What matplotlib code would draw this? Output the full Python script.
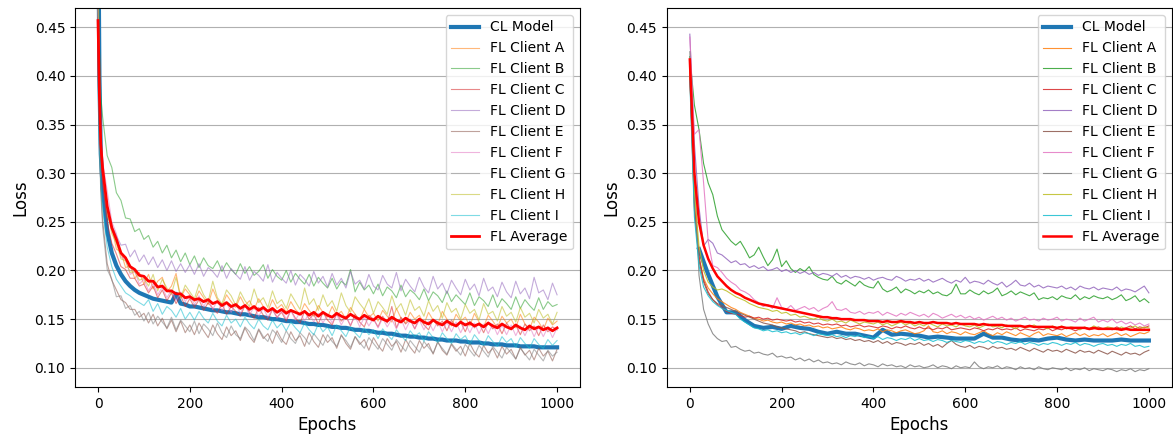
import numpy as np
import matplotlib.pyplot as plt

# epochs of the stored points
left_epochs = [0, 3, 6] + list(range(10, 1001, 10))
right_epochs = list(range(0, 1001, 10))
right_cl_epochs = list(range(20, 1001, 20))

client_names = ["FL Client A", "FL Client B", "FL Client C", "FL Client D", "FL Client E",
                "FL Client F", "FL Client G", "FL Client H", "FL Client I"]
client_colors = ["tab:orange", "tab:green", "tab:red", "tab:purple", "tab:brown",
                 "tab:pink", "tab:gray", "tab:olive", "tab:cyan"]

# ---- left panel (loss x1000) ----
left_cl = [600, 400, 320,
           285, 240, 218, 205, 196, 189, 184, 180, 177, 175,
           173, 171, 170, 169, 168, 167, 176, 166, 165, 163,
           163, 162, 161, 160, 159, 159, 158, 157, 157, 156,
           155, 155, 154, 153, 152, 152, 151, 150, 150, 149,
           148, 148, 147, 147, 146, 145, 145, 144, 144, 143,
           142, 142, 141, 141, 140, 139, 139, 138, 138, 137,
           136, 136, 135, 135, 134, 133, 133, 132, 132, 131,
           131, 130, 130, 129, 129, 128, 128, 128, 127, 127,
           126, 126, 126, 125, 125, 124, 124, 124, 123, 123,
           123, 122, 122, 122, 122, 121, 121, 121, 121, 121]
left_avg = [457, 380, 330,
            305, 266, 244, 232, 218, 213, 204, 201, 195, 194,
            189, 189, 183, 184, 179, 179, 176, 176, 172, 173,
            170, 171, 168, 170, 166, 168, 164, 167, 163, 165,
            161, 164, 160, 163, 159, 162, 158, 161, 157, 160,
            156, 159, 157, 155, 158, 154, 157, 153, 157, 154,
            152, 156, 153, 151, 155, 152, 150, 154, 151, 149,
            153, 150, 148, 152, 149, 147, 151, 148, 146, 150,
            147, 145, 149, 146, 144, 148, 145, 143, 147, 144,
            146, 143, 145, 142, 146, 143, 141, 145, 142, 140,
            144, 141, 139, 143, 140, 142, 139, 141, 138, 141]
left_a = [470, 390, 330,
          300, 256, 245, 222, 219, 203, 205, 192, 198, 186,
          196, 181, 189, 193, 178, 184, 197, 172, 181, 175,
          168, 179, 172, 165, 181, 170, 163, 175, 168, 162,
          173, 164, 169, 160, 171, 163, 158, 170, 161, 165,
          157, 168, 160, 155, 166, 159, 153, 164, 157, 152,
          163, 154, 158, 150, 162, 155, 149, 160, 152, 156,
          148, 159, 153, 147, 161, 151, 146, 157, 150, 154,
          145, 157, 149, 144, 158, 150, 143, 155, 148, 152,
          143, 156, 147, 142, 154, 148, 141, 153, 146, 150,
          141, 155, 145, 140, 152, 147, 139, 151, 144, 148]
left_b = [520, 430, 380,
          358, 318, 306, 280, 272, 254, 253, 240, 243, 232,
          236, 224, 230, 218, 226, 213, 221, 209, 218, 206,
          215, 203, 213, 205, 202, 210, 199, 208, 201, 196,
          207, 197, 204, 195, 199, 206, 192, 201, 194, 190,
          200, 188, 197, 191, 186, 196, 184, 193, 187, 182,
          192, 181, 189, 185, 201, 178, 188, 180, 185, 176,
          186, 174, 183, 179, 172, 185, 173, 180, 176, 170,
          181, 169, 178, 174, 167, 179, 168, 175, 170, 165,
          177, 164, 173, 169, 163, 175, 162, 171, 166, 160,
          173, 161, 170, 164, 159, 172, 160, 168, 163, 165]
left_c = [460, 380, 320,
          290, 250, 228, 217, 204, 201, 192, 192, 184, 186,
          177, 184, 172, 180, 169, 177, 166, 174, 163, 171,
          162, 170, 159, 167, 161, 156, 166, 155, 163, 158,
          153, 164, 157, 151, 162, 154, 149, 160, 152, 157,
          148, 159, 151, 146, 158, 150, 155, 145, 157, 149,
          144, 156, 148, 153, 143, 155, 147, 142, 154, 150,
          142, 153, 146, 163, 141, 152, 145, 150, 140, 151,
          144, 139, 150, 143, 148, 138, 149, 142, 147, 137,
          148, 141, 146, 136, 147, 140, 145, 135, 146, 139,
          144, 134, 145, 138, 143, 133, 144, 137, 142, 139]
left_d = [480, 400, 340,
          300, 262, 246, 236, 226, 227, 214, 221, 209, 216,
          206, 214, 203, 211, 200, 210, 199, 207, 198, 206,
          196, 207, 194, 203, 199, 193, 205, 192, 202, 196,
          191, 204, 190, 199, 195, 189, 206, 188, 198, 192,
          187, 200, 185, 196, 191, 184, 199, 187, 194, 183,
          197, 185, 192, 182, 199, 186, 190, 181, 196, 184,
          180, 195, 186, 182, 198, 179, 191, 184, 178, 193,
          183, 177, 194, 181, 187, 176, 190, 182, 175, 191,
          180, 186, 174, 192, 179, 183, 173, 188, 178, 172,
          189, 176, 182, 171, 193, 177, 180, 170, 187, 175]
left_e = [430, 340, 285,
          252, 207, 190, 180, 170, 167, 160, 160, 152, 156,
          146, 155, 143, 151, 140, 149, 137, 148, 136, 144,
          134, 146, 138, 131, 144, 135, 129, 142, 133, 138,
          128, 141, 132, 126, 139, 130, 135, 125, 138, 129,
          124, 137, 128, 133, 122, 136, 127, 121, 134, 126,
          131, 120, 134, 125, 119, 132, 124, 129, 118, 131,
          123, 117, 130, 122, 127, 116, 129, 121, 115, 128,
          120, 125, 114, 127, 118, 113, 124, 117, 122, 112,
          125, 116, 111, 123, 115, 120, 110, 122, 114, 119,
          109, 121, 113, 118, 108, 120, 112, 117, 107, 119]
left_f = [470, 400, 345,
          312, 282, 250, 238, 214, 211, 196, 199, 186, 191,
          179, 187, 175, 183, 172, 180, 169, 178, 168, 175,
          165, 174, 163, 171, 160, 169, 159, 167, 157, 166,
          156, 165, 154, 163, 153, 161, 152, 160, 151, 159,
          150, 159, 149, 157, 148, 156, 147, 156, 146, 155,
          146, 155, 144, 153, 144, 153, 142, 152, 143, 151,
          141, 151, 142, 150, 140, 150, 139, 149, 140, 149,
          139, 148, 138, 148, 137, 147, 137, 147, 136, 146,
          136, 146, 135, 145, 135, 145, 134, 144, 134, 144,
          133, 143, 133, 143, 132, 142, 132, 142, 131, 141]
left_g = [420, 330, 280,
          245, 201, 191, 173, 174, 161, 164, 154, 158, 148,
          157, 145, 153, 147, 141, 152, 139, 149, 143, 137,
          148, 135, 145, 140, 133, 146, 136, 131, 143, 134,
          130, 142, 137, 128, 140, 132, 127, 139, 134, 126,
          138, 130, 125, 136, 131, 124, 135, 129, 123, 134,
          127, 122, 133, 128, 121, 132, 126, 120, 131, 125,
          119, 130, 124, 118, 129, 123, 117, 128, 122, 116,
          127, 121, 115, 126, 120, 114, 125, 119, 113, 124,
          118, 112, 123, 117, 111, 122, 116, 110, 121, 115,
          109, 120, 114, 108, 119, 113, 107, 118, 112, 116]
left_h = [480, 395, 335,
          302, 262, 238, 228, 212, 210, 198, 199, 190, 192,
          184, 196, 179, 191, 182, 176, 193, 172, 185, 178,
          171, 186, 175, 168, 189, 172, 166, 180, 174, 164,
          178, 169, 163, 181, 167, 172, 162, 179, 166, 170,
          161, 176, 168, 160, 182, 165, 171, 159, 175, 163,
          169, 158, 177, 164, 157, 173, 166, 160, 171, 156,
          168, 162, 155, 174, 160, 166, 154, 170, 159, 163,
          153, 169, 158, 164, 151, 167, 157, 161, 150, 165,
          156, 160, 149, 166, 155, 158, 148, 163, 153, 157,
          147, 162, 152, 156, 146, 160, 151, 155, 145, 157]
left_i = [400, 330, 290,
          265, 224, 204, 191, 184, 177, 174, 170, 167, 164,
          170, 158, 166, 155, 163, 159, 152, 161, 150, 157,
          149, 158, 151, 146, 156, 148, 143, 154, 146, 150,
          142, 152, 145, 140, 150, 143, 139, 149, 141, 146,
          138, 147, 141, 136, 146, 139, 134, 145, 137, 142,
          133, 144, 138, 132, 142, 136, 131, 141, 134, 139,
          130, 140, 134, 129, 139, 133, 128, 138, 132, 136,
          127, 137, 131, 126, 136, 130, 125, 135, 129, 133,
          124, 134, 128, 123, 133, 127, 122, 132, 126, 130,
          121, 131, 125, 120, 130, 124, 120, 129, 123, 128]

# ---- right panel (loss x1000) ----
right_cl = [222, 196, 173, 157, 157, 149, 143, 141, 142, 140,
            143, 141, 140, 137, 135, 137, 135, 135, 133, 131,
            139, 134, 135, 134, 133, 131, 132, 131, 130, 130,
            130, 135, 131, 131, 129, 128, 129, 128, 130, 131,
            129, 128, 129, 128, 128, 128, 129, 128, 128, 128]
right_avg = [417, 300, 250, 226, 212, 202, 194, 189, 184, 180,
             177, 175, 172, 170, 168, 166, 165, 164, 163, 162,
             161, 160, 159, 158, 157, 156, 155, 154, 153, 152,
             152, 151, 151, 150, 150, 150, 149, 149, 149, 148,
             148, 148, 147, 148, 147, 147, 148, 147, 147, 146,
             147, 146, 146, 147, 146, 146, 146, 145, 146, 145,
             145, 145, 145, 144, 145, 144, 144, 144, 144, 143,
             143, 143, 143, 142, 143, 142, 142, 142, 142, 142,
             141, 142, 141, 141, 141, 141, 141, 140, 141, 140,
             140, 140, 140, 140, 139, 140, 139, 139, 139, 139,
             139]
right_a = [400, 265, 212, 192, 182, 176, 171, 168, 165, 162,
           160, 157, 155, 153, 151, 150, 148, 149, 147, 146,
           147, 145, 146, 144, 145, 143, 144, 142, 143, 141,
           142, 140, 141, 142, 140, 139, 141, 140, 138, 139,
           138, 140, 137, 139, 138, 136, 138, 139, 137, 135,
           136, 138, 143, 137, 136, 138, 135, 137, 136, 134,
           137, 135, 134, 136, 138, 135, 133, 136, 134, 137,
           135, 133, 136, 134, 132, 135, 137, 133, 135, 134,
           133, 135, 132, 134, 136, 133, 135, 132, 134, 133,
           135, 132, 134, 136, 133, 135, 132, 134, 136, 135,
           137]
right_b = [420, 370, 345, 310, 290, 278, 256, 242, 236, 230,
           226, 230, 222, 213, 216, 224, 214, 205, 211, 222,
           204, 210, 202, 198, 202, 199, 204, 196, 193, 191,
           190, 194, 188, 186, 190, 187, 184, 189, 185, 183,
           182, 189, 181, 178, 180, 183, 177, 181, 179, 176,
           179, 177, 180, 176, 178, 175, 174, 177, 186, 176,
           176, 180, 177, 175, 179, 176, 178, 182, 174, 176,
           179, 175, 178, 176, 174, 177, 170, 172, 171, 173,
           170, 174, 172, 171, 175, 170, 173, 171, 174, 172,
           171, 173, 170, 172, 175, 169, 171, 174, 168, 171,
           167]
right_c = [405, 270, 215, 190, 178, 170, 165, 162, 158, 156,
           155, 154, 152, 153, 151, 152, 150, 151, 149, 150,
           149, 148, 149, 147, 148, 146, 147, 145, 146, 144,
           145, 144, 145, 143, 144, 142, 143, 144, 142, 143,
           142, 141, 143, 142, 140, 142, 141, 143, 141, 140,
           142, 140, 141, 139, 141, 140, 142, 139, 140, 141,
           140, 139, 141, 140, 138, 140, 139, 141, 139, 140,
           139, 141, 138, 140, 139, 138, 140, 139, 141, 138,
           140, 139, 141, 140, 138, 140, 141, 139, 140, 142,
           140, 141, 139, 142, 140, 141, 143, 140, 142, 141,
           143]
right_d = [443, 330, 265, 225, 232, 228, 218, 216, 212, 208,
           210, 206, 207, 203, 205, 202, 204, 200, 201, 203,
           199, 201, 198, 200, 197, 199, 196, 198, 195, 197,
           196, 194, 197, 193, 195, 192, 194, 193, 191, 193,
           190, 192, 193, 191, 190, 194, 192, 189, 191, 190,
           192, 189, 191, 188, 190, 192, 189, 187, 190, 188,
           193, 187, 189, 188, 186, 190, 187, 185, 188, 183,
           186, 190, 185, 184, 187, 183, 185, 182, 184, 183,
           182, 184, 181, 183, 180, 184, 182, 181, 183, 180,
           182, 181, 180, 183, 179, 181, 180, 178, 181, 184,
           177]
right_e = [400, 262, 210, 188, 176, 170, 166, 164, 162, 160,
           158, 156, 154, 152, 150, 148, 146, 145, 144, 142,
           141, 140, 139, 138, 136, 137, 135, 134, 133, 132,
           131, 132, 130, 131, 129, 130, 128, 129, 127, 128,
           126, 128, 125, 127, 124, 126, 125, 123, 125, 124,
           126, 123, 125, 122, 124, 121, 125, 128, 124, 122,
           121, 123, 120, 122, 121, 119, 122, 120, 121, 119,
           120, 118, 121, 119, 117, 120, 118, 116, 119, 117,
           118, 116, 119, 117, 115, 118, 116, 117, 115, 118,
           116, 114, 117, 115, 113, 116, 114, 115, 113, 116,
           118]
right_f = [440, 340, 345, 290, 230, 205, 203, 198, 192, 188,
           185, 180, 178, 175, 170, 167, 163, 165, 161, 172,
           162, 160, 164, 159, 161, 163, 160, 162, 158, 161,
           163, 168, 160, 159, 161, 157, 156, 158, 155, 157,
           156, 158, 154, 157, 155, 153, 156, 154, 157, 155,
           153, 155, 152, 156, 154, 151, 153, 155, 152, 154,
           151, 153, 150, 152, 149, 151, 153, 150, 152, 149,
           151, 148, 150, 152, 149, 150, 148, 151, 149, 150,
           152, 148, 150, 149, 147, 151, 148, 150, 152, 147,
           149, 147, 150, 146, 148, 145, 147, 144, 146, 143,
           145]
right_g = [425, 300, 195, 160, 145, 135, 130, 127, 128, 121,
           122, 119, 117, 118, 115, 116, 114, 113, 115, 111,
           112, 110, 111, 108, 110, 107, 109, 106, 108, 105,
           106, 104, 105, 103, 106, 104, 103, 105, 102, 104,
           103, 101, 104, 102, 103, 101, 102, 100, 103, 101,
           102, 100, 101, 103, 100, 102, 101, 99, 102, 100,
           101, 100, 106, 101, 99, 101, 100, 102, 99, 101,
           100, 98, 101, 99, 100, 98, 101, 99, 98, 100,
           99, 98, 100, 97, 99, 98, 100, 97, 99, 98,
           97, 99, 98, 96, 98, 97, 99, 96, 98, 97,
           99]
right_h = [410, 280, 225, 200, 188, 183, 180, 181, 179, 176,
           173, 171, 169, 166, 164, 162, 161, 160, 158, 159,
           156, 157, 154, 155, 152, 153, 151, 150, 152, 149,
           148, 150, 147, 148, 146, 149, 147, 145, 147, 146,
           145, 147, 144, 146, 143, 145, 147, 144, 146, 143,
           145, 143, 146, 144, 142, 145, 143, 144, 142, 145,
           143, 142, 144, 141, 143, 145, 142, 143, 141, 144,
           142, 140, 143, 141, 142, 144, 141, 142, 140, 143,
           141, 143, 140, 142, 141, 139, 142, 140, 143, 141,
           140, 142, 141, 139, 142, 140, 141, 143, 140, 142,
           141]
right_i = [395, 255, 205, 183, 174, 168, 164, 161, 159, 157,
           155, 150, 147, 144, 141, 140, 138, 139, 137, 138,
           136, 137, 135, 136, 134, 136, 135, 133, 135, 134,
           133, 134, 132, 133, 131, 133, 132, 134, 131, 132,
           130, 132, 129, 131, 130, 128, 130, 129, 131, 128,
           130, 128, 129, 127, 129, 128, 126, 128, 127, 126,
           128, 127, 125, 127, 126, 128, 125, 127, 126, 124,
           126, 125, 127, 124, 126, 125, 123, 125, 124, 126,
           125, 123, 125, 124, 126, 123, 125, 124, 122, 124,
           125, 123, 124, 122, 124, 123, 125, 122, 123, 121,
           122]

left_clients = [left_a, left_b, left_c, left_d, left_e, left_f, left_g, left_h, left_i]
right_clients = [right_a, right_b, right_c, right_d, right_e, right_f, right_g, right_h, right_i]


def draw_panel(ax, epochs, cl_epochs, cl, clients, avg, client_alpha, avg_lw):
    ax.plot(cl_epochs, np.array(cl) / 1000, color="tab:blue", lw=3, label="CL Model")
    for vals, name, col in zip(clients, client_names, client_colors):
        ax.plot(epochs, np.array(vals) / 1000, color=col, lw=0.8, alpha=client_alpha, label=name)
    ax.plot(epochs, np.array(avg) / 1000, color="red", lw=avg_lw, label="FL Average")
    ax.set_ylim(0.08, 0.47)
    ax.set_xlim(-50, 1050)
    ax.set_xticks([0, 200, 400, 600, 800, 1000])
    ax.set_yticks([0.10, 0.15, 0.20, 0.25, 0.30, 0.35, 0.40, 0.45])
    ax.grid(axis="y")
    ax.set_xlabel("Epochs", fontsize=12)
    ax.set_ylabel("Loss", fontsize=12)
    ax.legend(loc="upper right", fontsize=10)


fig, axes = plt.subplots(1, 2, figsize=(11.73, 4.4), dpi=100)
fig.subplots_adjust(left=0.064, right=0.999, bottom=0.12, top=0.982, wspace=0.172)

draw_panel(axes[0], left_epochs, left_epochs, left_cl, left_clients, left_avg, 0.55, 2.0)
draw_panel(axes[1], right_epochs, right_cl_epochs, right_cl, right_clients, right_avg, 0.85, 1.8)

fig.savefig("out.png", dpi=100)
